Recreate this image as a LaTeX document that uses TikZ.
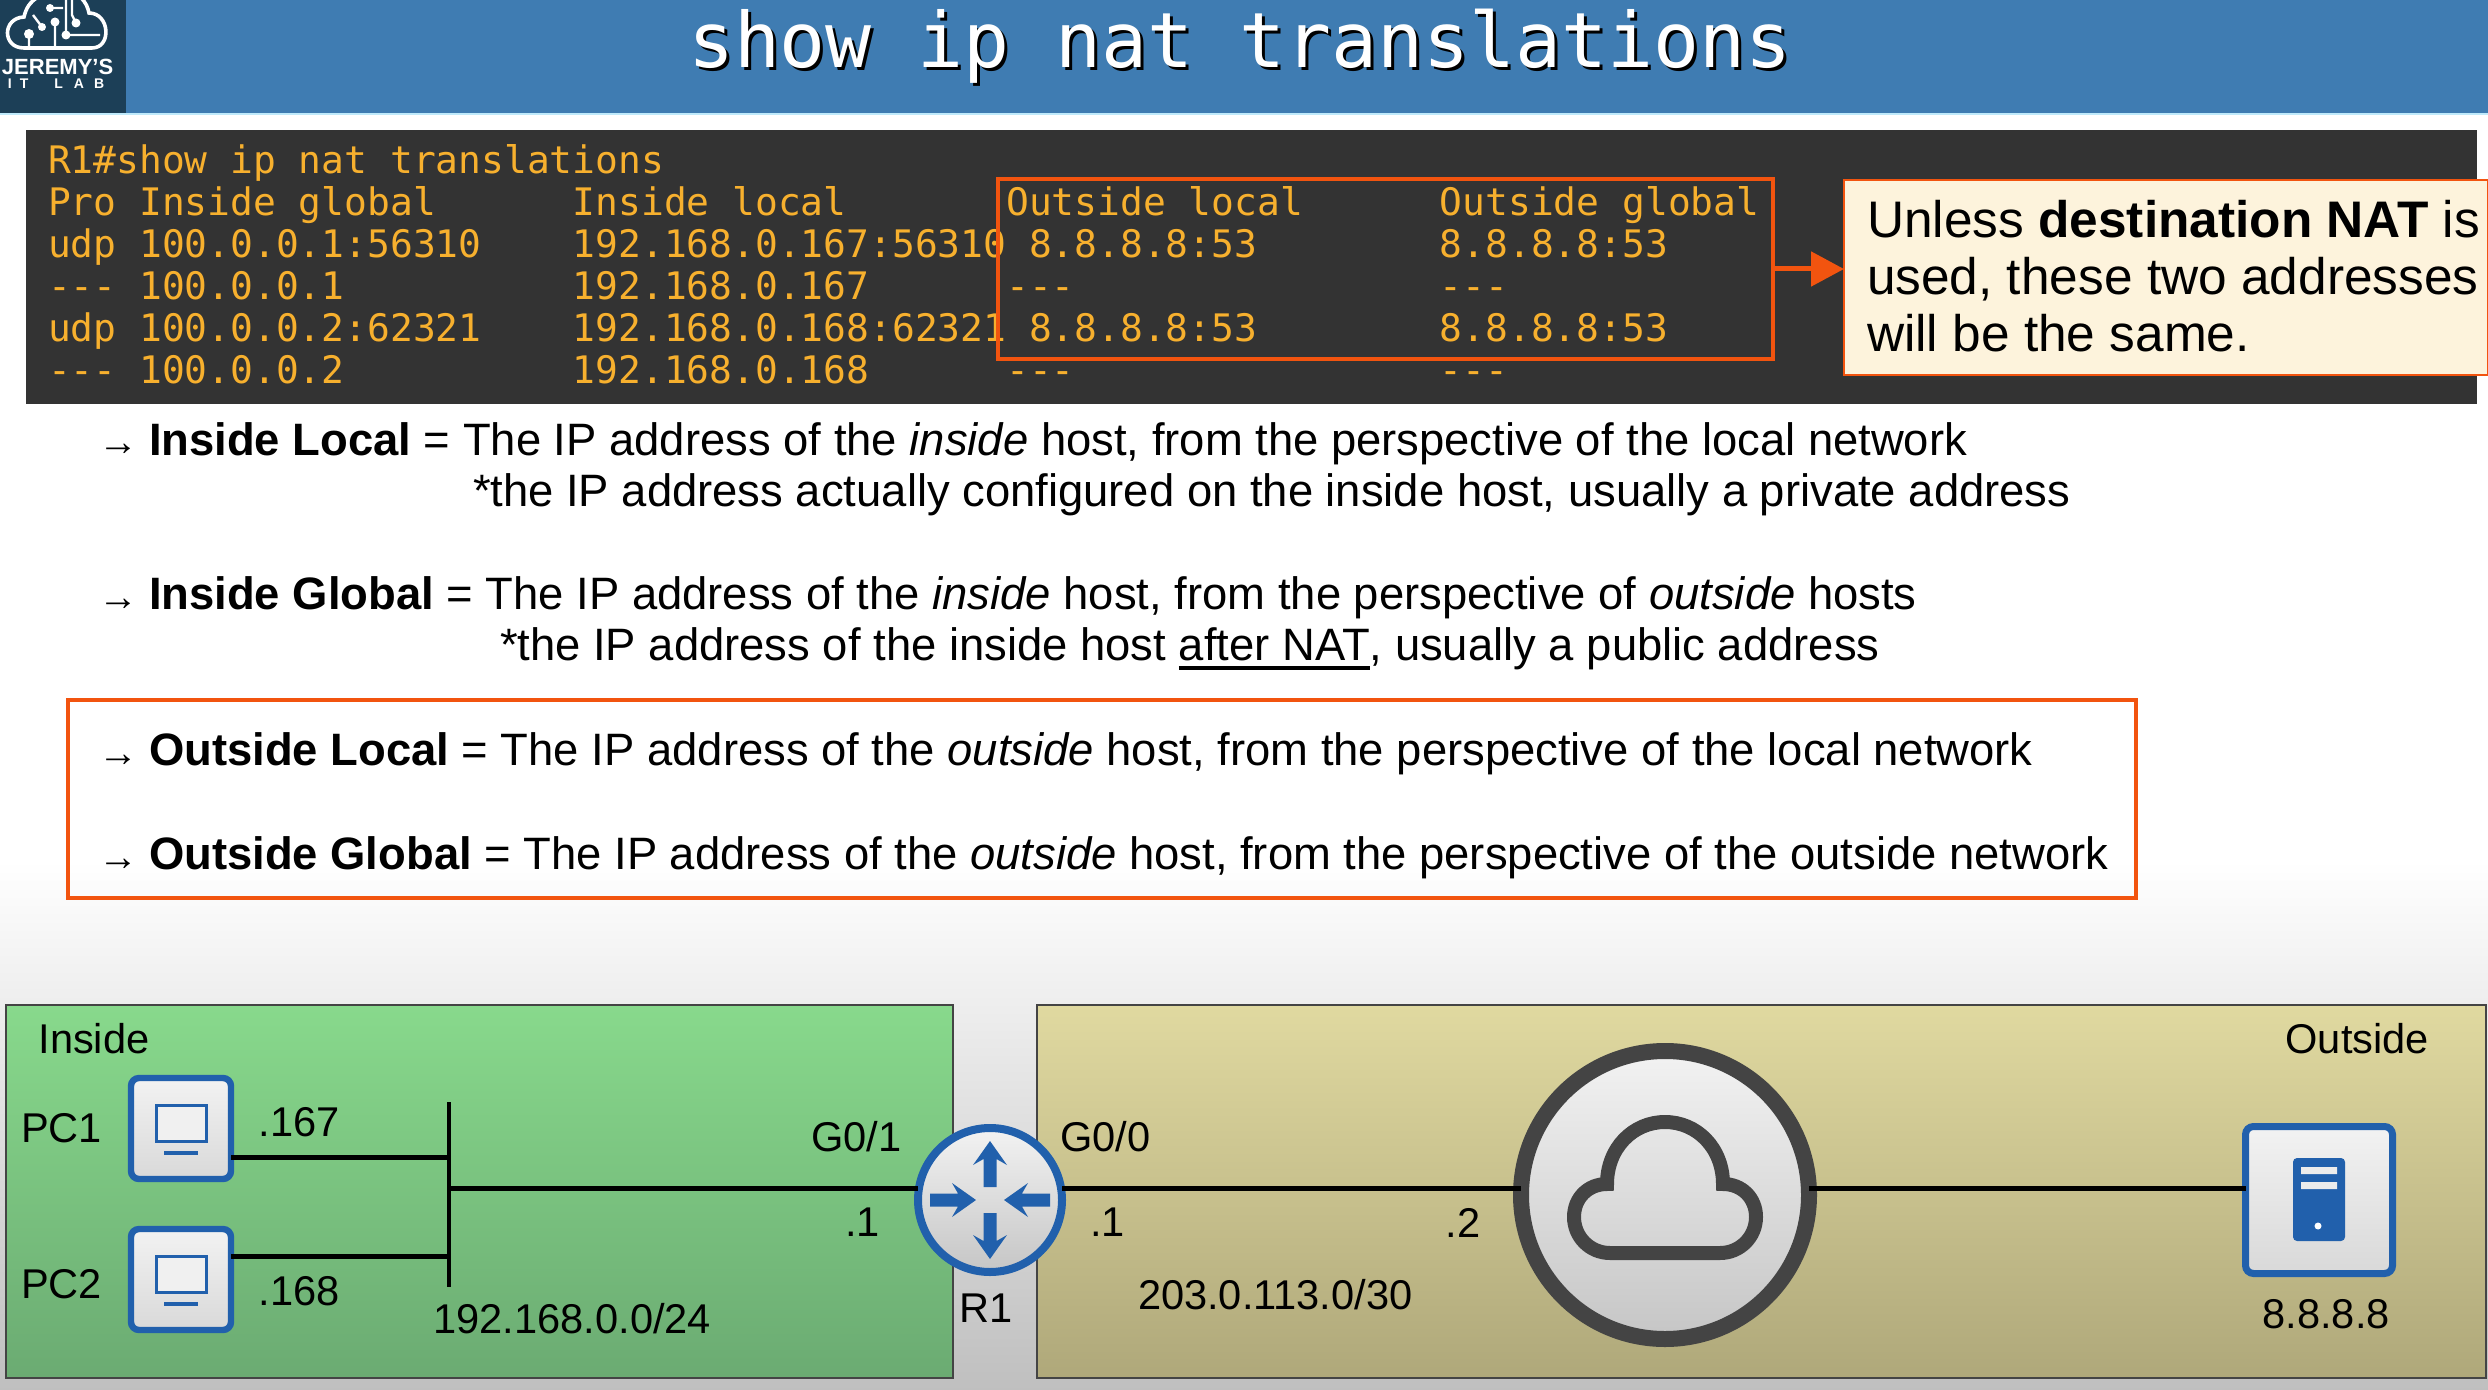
\documentclass[tikz,border=0pt]{standalone}
\usepackage{fontspec}
\setmainfont{Liberation Sans}
\newfontfamily\termf{DejaVu Sans Mono}
\usetikzlibrary{arrows.meta}
\definecolor{hdr}{HTML}{3F7CB2}
\definecolor{logobg}{HTML}{1C3F57}
\definecolor{term}{HTML}{333333}
\definecolor{amber}{HTML}{F7B02E}
\definecolor{orng}{HTML}{F2540F}
\definecolor{cream}{HTML}{FDF3DC}
\definecolor{cisco}{HTML}{2160AC}
\definecolor{dkgr}{HTML}{444444}
\definecolor{ingrtop}{HTML}{88D98C}
\definecolor{ingrbot}{HTML}{6BAB72}
\definecolor{outgrtop}{HTML}{E0D9A0}
\definecolor{outgrbot}{HTML}{AFA87A}
\newcommand{\pxfont}[1]{\fontsize{#1}{#1}\selectfont}
\newcommand{\routerarrow}[3]{\fill[cisco,shift={(#1,#2)},rotate=#3] (0,-6.5)--(28,-6.5)--(22,-17)--(46,0)--(22,17)--(28,6.5)--(0,6.5)--cycle;}
\newcommand{\thickul}[1]{\setbox0\hbox{#1}\rlap{\raisebox{-4.8pt}{\rule{\wd0}{1.7pt}}}\box0}
\tikzset{
  x=0.5pt,y=-0.5pt,
  txt/.style={anchor=base west,inner sep=0pt,outer sep=0pt},
  bodytxt/.style={txt,font=\pxfont{22.7}},
  calltxt/.style={txt,font=\pxfont{25.7}},
  arrowtxt/.style={txt,font=\pxfont{20}},
  lbl/.style={txt,font=\pxfont{20.8}},
  termtxt/.style={txt,text=amber,font=\termf\pxfont{18.95}},
  panel/.style={rectangle,draw=dkgr,line width=0.6pt,inner sep=0pt,outer sep=0pt},
  dev/.style={rectangle,draw=cisco,rounded corners=4pt,line width=3.2pt,top color=gray!10,bottom color=gray!30,inner sep=0pt,outer sep=0pt},
  roundel/.style={circle,inner sep=0pt,outer sep=0pt,top color=gray!10,bottom color=gray!45},
  link/.style={black,line width=2.5pt},
}
\begin{document}
\begin{tikzpicture}
\useasboundingbox (0,0) rectangle (2488,1390);
% page background
\fill[white] (0,0) rectangle (2488,1390);
\shade[top color=white,bottom color=gray!50] (0,860) rectangle (2488,1390);
% header
\fill[hdr] (0,0) rectangle (2488,113);
\fill[cyan!25] (0,113) rectangle (2488,115);
\fill[logobg] (0,0) rectangle (126,113);
\begin{scope}
\clip (0,0) rectangle (126,113);
\draw[white,line width=1.8pt] (38,-3) .. controls (30,2) and (26,8) .. (24,17) .. controls (2,18) and (2,48) .. (24,48) -- (92,48) .. controls (112,48) and (110,13) .. (89,13) .. controls (88,8) and (86,2) .. (80,-3);
\draw[white,line width=1.2pt] (29,34) -- (29,48) (55,22) -- (55,48) (42,27) -- (33,15) (50,8) -- (63,8) (66,0) -- (66,35) -- (100,35) (76,23) -- (72,15) -- (72,0);
\fill[white] (29,34) circle (5) (42,27) circle (4) (55,22) circle (4.5) (50,8) circle (4) (66,35) circle (4.5) (76,23) circle (4.5);
\end{scope}
\node[txt,text=white,font=\bfseries\pxfont{11}] (logoa) at (2,75) {JEREMY'S};
\node[txt,text=white,font=\bfseries\pxfont{7}] (logob) at (8,89) {I\kern4pt T\kern13pt L\kern5.5pt A\kern5pt B};
% title
\node[txt,text=black,font=\termf\pxfont{38.2}] (titleshadow) at (691,71) {show ip nat translations};
\node[txt,text=white,font=\termf\pxfont{38.2}] (title) at (688,68) {show ip nat translations};
% terminal
\fill[term] (26,130) rectangle (2477,404);
\node[termtxt] (t1) at (48,174) {R1\#show ip nat translations};
\node[termtxt] (t2) at (48,216) {Pro Inside global~~~~~~Inside local~~~~~~~Outside local~~~~~~Outside global};
\node[termtxt] (t3) at (48,258) {udp 100.0.0.1:56310~~~~192.168.0.167:56310 8.8.8.8:53~~~~~~~~8.8.8.8:53};
\node[termtxt] (t4) at (48,300) {-{}-{}- 100.0.0.1~~~~~~~~~~192.168.0.167~~~~~~-{}-{}-~~~~~~~~~~~~~~~~-{}-{}-};
\node[termtxt] (t5) at (48,342) {udp 100.0.0.2:62321~~~~192.168.0.168:62321 8.8.8.8:53~~~~~~~~8.8.8.8:53};
\node[termtxt] (t6) at (48,384) {-{}-{}- 100.0.0.2~~~~~~~~~~192.168.0.168~~~~~~-{}-{}-~~~~~~~~~~~~~~~~-{}-{}-};
\node[rectangle,draw=orng,line width=2.3pt,inner sep=0pt,outer sep=0pt,minimum width=387.5pt,minimum height=90pt] (obox) at (1385.5,269) {};
\node[rectangle,fill=cream,draw=orng,line width=0.6pt,inner sep=0pt,outer sep=0pt,minimum width=322pt,minimum height=97.5pt] (callout) at (2166,277.5) {};
\draw[orng,line width=2.5pt,-{Triangle[length=16.5pt,width=17pt]}] (obox.east) -- (obox.east -| callout.west);
\node[calltxt] (c1) at (1867,237.5) {Unless \textbf{destination NAT} is};
\node[calltxt] (c2) at (1867,294.5) {used, these two addresses};
\node[calltxt] (c3) at (1867,351.5) {will be the same.};
% definitions
\node[arrowtxt] (a1) at (98,455) {→};
\node[bodytxt] (d1) at (149,455) {\textbf{Inside Local} = The IP address of the \textit{inside} host, from the perspective of the local network};
\node[bodytxt] (d1b) at (473,506) {*the IP address actually configured on the inside host, usually a private address};
\node[arrowtxt] (a2) at (98,610) {→};
\node[bodytxt] (d2) at (149,609) {\textbf{Inside Global} = The IP address of the \textit{inside} host, from the perspective of \textit{outside} hosts};
\node[bodytxt] (d2b) at (500,660) {*the IP address of the inside host \thickul{after NAT}, usually a public address};
\node[rectangle,draw=orng,line width=2.2pt,inner sep=0pt,outer sep=0pt,minimum width=1034pt,minimum height=99pt] (obox2) at (1102,799) {};
\node[arrowtxt] (a3) at (98,766) {→};
\node[bodytxt] (d3) at (149,765) {\textbf{Outside Local} = The IP address of the \textit{outside} host, from the perspective of the local network};
\node[arrowtxt] (a4) at (98,870) {→};
\node[bodytxt] (d4) at (149,869) {\textbf{Outside Global} = The IP address of the \textit{outside} host, from the perspective of the outside network};
% network panels
\node[panel,top color=ingrtop,bottom color=ingrbot,minimum width=473.5pt,minimum height=186.5pt] (inside) at (479.5,1191.5) {};
\node[panel,top color=outgrtop,bottom color=outgrbot,minimum width=724.5pt,minimum height=186.5pt] (outside) at (1761.5,1191.5) {};
\node[lbl] (insidelbl) at (38.5,1053) {Inside};
\node[lbl] (outsidelbl) at (2285.5,1053) {Outside};
% devices
\node[dev,minimum width=50pt,minimum height=50.5pt] (pc1) at (181,1128.5) {};
\node[dev,minimum width=50pt,minimum height=50.5pt] (pc2) at (181,1279.5) {};
\foreach \py in {1128.5,1279.5}{
  \draw[cisco,line width=1.5pt,fill=gray!12] (156,\py-23.5) rectangle (206,\py+12.5);
  \draw[cisco,line width=2pt] (164,\py+24.5) -- (198,\py+24.5);
}
\node[roundel,draw=cisco,line width=4pt,minimum size=72pt] (router) at (990,1200) {};
\routerarrow{990}{1187}{90}
\routerarrow{990}{1213}{-90}
\routerarrow{930}{1200}{0}
\routerarrow{1050}{1200}{180}
\node[roundel,draw=dkgr,line width=8pt,minimum size=144pt] (cloud) at (1665,1195) {};
\draw[dkgr,line width=7pt,miter limit=10] (1610,1253) .. controls (1590,1253) and (1574,1237) .. (1574,1217) .. controls (1574,1198) and (1588,1184) .. (1607,1184) .. controls (1607,1148) and (1633,1122) .. (1665,1122) .. controls (1697,1122) and (1723,1148) .. (1723,1184) .. controls (1742,1184) and (1756,1198) .. (1756,1217) .. controls (1756,1237) and (1740,1253) .. (1720,1253) -- cycle;
\node[dev,line width=3.5pt,minimum width=73.5pt,minimum height=73.5pt] (server) at (2319,1200) {};
\fill[cisco,rounded corners=2pt] (2293,1158) rectangle (2345,1241);
\fill[gray!15] (2301,1167) rectangle (2337,1174) (2301,1182) rectangle (2337,1189);
\fill[white] (2318,1226) circle (3.5);
% connectors
\coordinate (busT) at (449,1102);
\coordinate (busB) at (449,1287);
\coordinate (j1) at (449,1157);
\coordinate (j2) at (449,1256);
\coordinate (jm) at (449,1188);
\draw[black,line width=2pt] (busT) -- (busB);
\draw[link] (pc1.east |- j1) -- (j1);
\draw[link] (pc2.east |- j2) -- (j2);
\draw[link] (jm) -- (router.west |- jm);
\draw[link] (router.east |- jm) -- (cloud.west |- jm);
\draw[link] (cloud.east |- jm) -- (server.west |- jm);
% labels
\node[lbl] (l1) at (21,1142) {PC1};
\node[lbl] (l2) at (21,1298) {PC2};
\node[lbl] (l3) at (258.5,1136) {.167};
\node[lbl] (l4) at (258.5,1305) {.168};
\node[lbl] (l5) at (433.5,1333) {192.168.0.0/24};
\node[lbl] (l6) at (811,1151) {G0/1};
\node[lbl] (l7) at (845,1236) {.1};
\node[lbl] (l8) at (959.5,1322) {R1};
\node[lbl] (l9) at (1060,1151) {G0/0};
\node[lbl] (l10) at (1090,1236) {.1};
\node[lbl] (l11) at (1445.5,1237) {.2};
\node[lbl] (l12) at (1138,1309) {203.0.113.0/30};
\node[lbl] (l13) at (2262.5,1328) {8.8.8.8};
\end{tikzpicture}
\end{document}
